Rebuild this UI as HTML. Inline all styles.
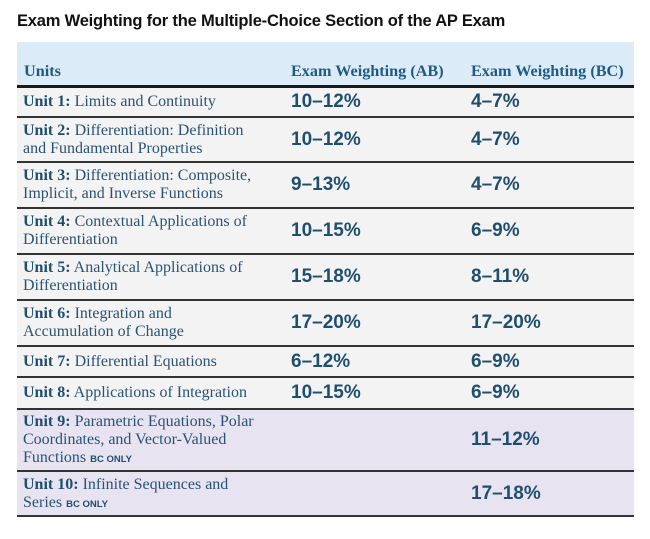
<!DOCTYPE html>
<html><head><meta charset="utf-8"><style>
body{margin:0;width:650px;height:539px;background:#fff;position:relative;overflow:hidden;font-family:"Liberation Sans",sans-serif}
#title{position:absolute;left:17px;top:12px;font-weight:bold;font-size:16.5px;color:#111;letter-spacing:-0.2px}
#hdr{position:absolute;left:17px;top:42px;width:617px;height:43px;background:#dcebf8;border-bottom:3px solid #1a1a1a}
.h{position:absolute;top:20px;font-family:"Liberation Serif",serif;font-weight:bold;font-size:16.2px;color:#1f5a80}
.row{position:absolute;left:17px;width:617px;background:#f3f3f4;border-bottom:2px solid #333}
.row.bc{background:#e7e3f0}
.u{position:absolute;left:6px;font-family:"Liberation Serif",serif;font-size:16px;line-height:18px;color:#2a5273;white-space:nowrap}
.u b{color:#1f4e6e}
.u small{font-family:"Liberation Sans",sans-serif;font-weight:bold;font-size:9.5px;color:#1f4e6e}
.p{position:absolute;font-weight:bold;font-size:19px;color:#1f4e6e}
</style></head><body>
<div id="title">Exam Weighting for the Multiple-Choice Section of the AP Exam</div>
<div id="hdr">
<span class="h" style="left:7px">Units</span>
<span class="h" style="left:274px">Exam Weighting (AB)</span>
<span class="h" style="left:454px">Exam Weighting (BC)</span>
</div>
<div id="rows"></div>
<script>
const units=[["Unit 1:"," Limits and Continuity"],["Unit 2:"," Differentiation: Definition<br>and Fundamental Properties"],["Unit 3:"," Differentiation: Composite,<br>Implicit, and Inverse Functions"],["Unit 4:"," Contextual Applications of<br>Differentiation"],["Unit 5:"," Analytical Applications of<br>Differentiation"],["Unit 6:"," Integration and<br>Accumulation of Change"],["Unit 7:"," Differential Equations"],["Unit 8:"," Applications of Integration"],["Unit 9:"," Parametric Equations, Polar<br>Coordinates, and Vector-Valued<br>Functions <small>BC ONLY</small>"],["Unit 10:"," Infinite Sequences and<br>Series <small>BC ONLY</small>"]];
const ab=["10–12%","10–12%","9–13%","10–15%","15–18%","17–20%","6–12%","10–15%","",""];
const bc=["4–7%","4–7%","4–7%","6–9%","8–11%","17–20%","6–9%","6–9%","11–12%","17–18%"];
const tops=[88,118,163,209,255,301,347,378,410,472,517];
const c=document.getElementById('rows');
units.forEach((u,i)=>{
 const r=document.createElement('div');r.className='row'+(i>=8?' bc':'');
 
 
 const h=tops[i+1]-tops[i]-2;r.style.top=tops[i]+'px';r.style.height=h+'px';
 const lines=u[1].split('<br>').length;
 const ut=document.createElement('div');ut.className='u';ut.innerHTML='<b>'+u[0]+'</b>'+u[1];
 
 
 ut.style.top=(h-lines*18)/2+'px';r.appendChild(ut);
 [[ab[i],274],[bc[i],454]].forEach(([v,x])=>{if(!v)return;const p=document.createElement('div');p.className='p';p.textContent=v;
 
 
 p.style.left=x+'px';p.style.top=(h-22)/2+'px';r.appendChild(p);});
 c.appendChild(r);
});
</script>
</body></html>
